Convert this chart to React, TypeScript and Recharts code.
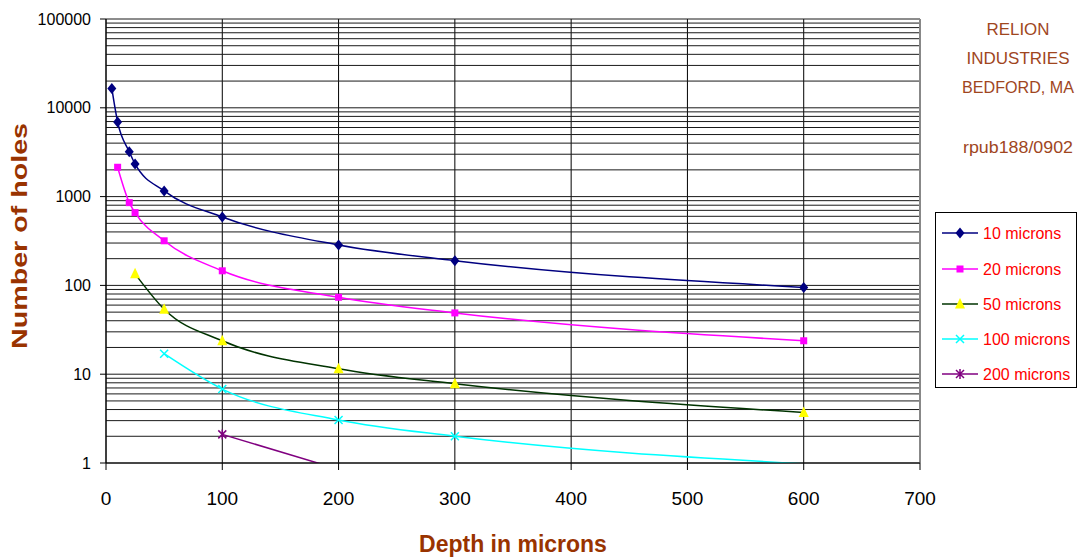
import React from "react"
import { LineChart, Line, XAxis, YAxis, CartesianGrid, ReferenceLine } from "recharts"

// axis ticks
const depthTicks = [0, 100, 200, 300, 400, 500, 600, 700]
const holeTicks = [1, 10, 100, 1000, 10000, 100000]
const minorSteps = [2, 3, 4, 5, 6, 7, 8, 9]

// depth (microns) vs number of holes
const depth10 = [5, 10, 20, 25, 50, 100, 200, 300, 600]
const holes10 = [16500, 6900, 3200, 2330, 1160, 590, 285, 190, 95]
const depth20 = [10, 20, 25, 50, 100, 200, 300, 600]
const holes20 = [2140, 855, 660, 318, 146, 73.5, 49, 23.8]
const depth50 = [25, 50, 100, 200, 300, 600]
const holes50 = [135, 54, 23.8, 11.5, 7.8, 3.7]
const depth100 = [50, 100, 200, 300, 600]
const holes100 = [17, 6.8, 3.05, 2.0, 0.98]
const depth200 = [100, 200]
const holes200 = [2.1, 0.85]

const FONT = "'Liberation Sans', Arial, sans-serif"
const BROWN = "#993300"

const series = [
  { name: "10 microns", xs: depth10, ys: holes10, stroke: "#000080", fill: "#000080", kind: "diamond" },
  { name: "20 microns", xs: depth20, ys: holes20, stroke: "#FF00FF", fill: "#FF00FF", kind: "square" },
  { name: "50 microns", xs: depth50, ys: holes50, stroke: "#003300", fill: "#FFFF00", kind: "triangle" },
  { name: "100 microns", xs: depth100, ys: holes100, stroke: "#00FFFF", fill: "#00FFFF", kind: "cross" },
  { name: "200 microns", xs: depth200, ys: holes200, stroke: "#800080", fill: "#800080", kind: "star" },
]

const companyLines = [
  { text: "RELION", y: 35, w: 63 },
  { text: "INDUSTRIES", y: 64, w: 103 },
  { text: "BEDFORD, MA", y: 93, w: 112 },
  { text: "rpub188/0902", y: 153, w: 110 },
]

const gridValues = holeTicks
  .slice(0, -1)
  .flatMap((d) => [d, ...minorSteps.map((m) => d * m)])
  .concat([holeTicks[holeTicks.length - 1]])

const Marker = ({ kind, cx, cy, fill }: { kind: string; cx: number; cy: number; fill: string }) => {
  switch (kind) {
    case "diamond":
      return <path d={`M${cx},${cy - 5.5}L${cx + 4.5},${cy}L${cx},${cy + 5.5}L${cx - 4.5},${cy}Z`} fill={fill} />
    case "square":
      return <rect x={cx - 3.5} y={cy - 3.5} width={7} height={7} fill={fill} />
    case "triangle":
      return <path d={`M${cx},${cy - 6}L${cx + 5},${cy + 4.5}L${cx - 5},${cy + 4.5}Z`} fill={fill} />
    case "cross":
      return (
        <path
          d={`M${cx - 4},${cy - 4}L${cx + 4},${cy + 4}M${cx + 4},${cy - 4}L${cx - 4},${cy + 4}`}
          stroke={fill}
          strokeWidth={1.5}
        />
      )
    default:
      return (
        <path
          d={`M${cx - 4},${cy - 4}L${cx + 4},${cy + 4}M${cx + 4},${cy - 4}L${cx - 4},${cy + 4}M${cx},${cy - 5}L${cx},${cy + 5}`}
          stroke={fill}
          strokeWidth={1.5}
        />
      )
  }
}

export default function App() {
  return (
    <div style={{ position: "absolute", left: 0, top: 0, width: 1080, height: 557, background: "#fff" }}>
      <LineChart width={1080} height={557} margin={{ top: 19, right: 160, bottom: 0, left: 0 }}>
        <CartesianGrid horizontal={false} stroke="#000" strokeOpacity={1} />
        {gridValues.map((v) => (
          <ReferenceLine key={v} y={v} stroke="#1a1a1a" strokeWidth={1} />
        ))}
        <ReferenceLine x={700} stroke="#888" strokeWidth={2} />
        <XAxis
          type="number"
          dataKey="x"
          domain={[0, 700]}
          ticks={depthTicks}
          allowDataOverflow
          height={94}
          tickSize={7}
          tickMargin={22}
          stroke="#000"
          tick={{ fill: "#000", fontSize: 19, fontFamily: FONT }}
        />
        <YAxis
          type="number"
          dataKey="y"
          scale="log"
          domain={[1, 100000]}
          ticks={holeTicks}
          allowDataOverflow
          width={106}
          tickSize={6}
          tickMargin={9}
          stroke="#000"
          tick={{ fill: "#000", fontSize: 16, fontFamily: FONT }}
        />
        {series.map((s) => (
          <Line
            key={s.name}
            data={s.xs.map((x, i) => ({ x, y: s.ys[i] }))}
            dataKey="y"
            name={s.name}
            type="monotone"
            stroke={s.stroke}
            strokeWidth={1.5}
            isAnimationActive={false}
            activeDot={false}
            dot={(p: any) =>
              p.payload.y < 1 ? (
                <g key={`${s.name}-${p.index}`} />
              ) : (
                <g key={`${s.name}-${p.index}`}>
                  <Marker kind={s.kind} cx={p.cx} cy={p.cy} fill={s.fill} />
                </g>
              )
            }
          />
        ))}
      </LineChart>

      <svg
        width={1080}
        height={557}
        style={{ position: "absolute", left: 0, top: 0, pointerEvents: "none" }}
        fontFamily={FONT}
      >
        <text
          transform="translate(27,236) rotate(-90)"
          textAnchor="middle"
          fontSize={22}
          fontWeight="bold"
          fill={BROWN}
          textLength={226}
          lengthAdjust="spacingAndGlyphs"
        >
          Number of holes
        </text>
        <text x={513} y={552} textAnchor="middle" fontSize={23} fontWeight="bold" fill={BROWN}>
          Depth in microns
        </text>

        <g fill="#A0461E" fontSize={17} textAnchor="middle">
          {companyLines.map((l) => (
            <text key={l.text} x={1018} y={l.y} textLength={l.w} lengthAdjust="spacingAndGlyphs">
              {l.text}
            </text>
          ))}
        </g>

        <rect x={935.5} y={212.5} width={141} height={175} fill="#fff" stroke="#000" strokeWidth={1} />
        {series.map((s, i) => {
          const y = [233, 269, 304, 339, 374][i]
          return (
            <g key={s.name}>
              <line x1={942} x2={978} y1={y} y2={y} stroke={s.stroke} strokeWidth={1.5} />
              <Marker kind={s.kind} cx={960} cy={y} fill={s.fill} />
              <text x={983} y={y + 6} fontSize={16} fill="#FF0000">
                {s.name}
              </text>
            </g>
          )
        })}
      </svg>
    </div>
  )
}
